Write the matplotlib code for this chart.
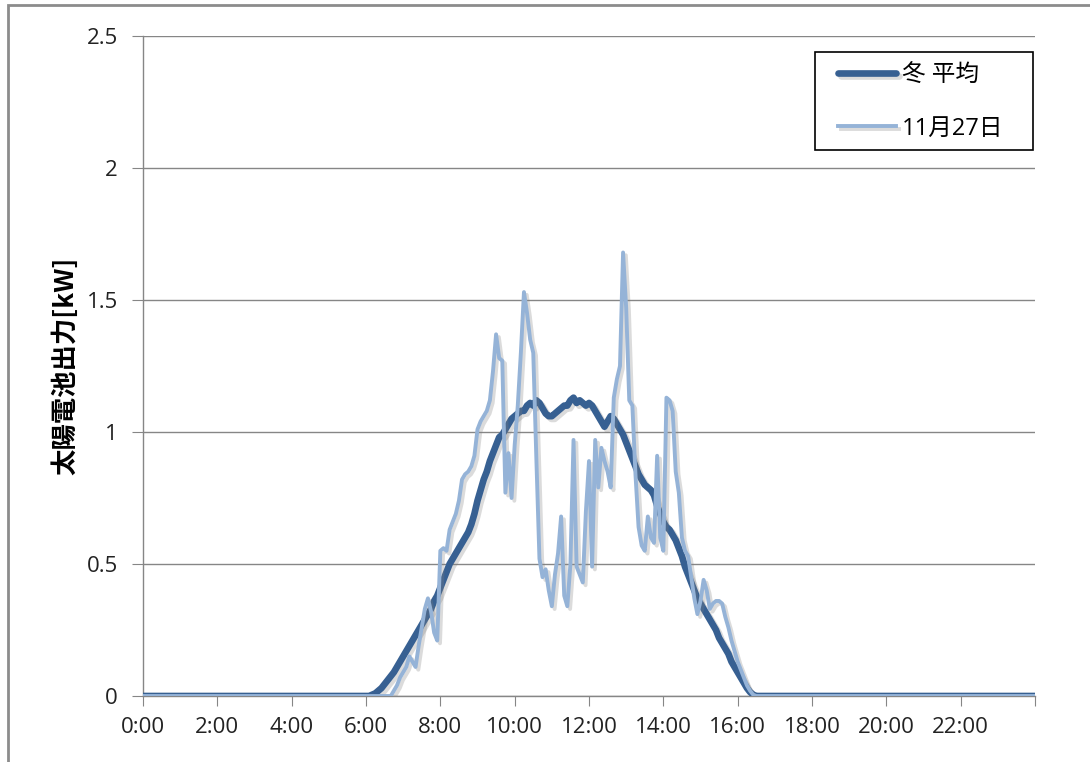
import numpy as np
import matplotlib.pyplot as plt
import matplotlib.patheffects as pe
from matplotlib.patches import Rectangle

# 5-minute values from 6:00 to 17:00 (zero outside this range)
day_start_min = 6 * 60
step_min = 5

winter_avg = [
    0, 0, 0.005, 0.01, 0.02, 0.03, 0.045, 0.06, 0.075, 0.09, 0.11, 0.13,
    0.15, 0.17, 0.19, 0.21, 0.23, 0.25, 0.27, 0.29, 0.31, 0.33, 0.36, 0.38,
    0.41, 0.44, 0.47, 0.50, 0.52, 0.54, 0.56, 0.58, 0.60, 0.62, 0.65, 0.69,
    0.74, 0.78, 0.82, 0.85, 0.89, 0.92, 0.95, 0.98, 0.99, 1.01, 1.03, 1.05,
    1.06, 1.07, 1.08, 1.08, 1.10, 1.11, 1.10, 1.12, 1.11, 1.09, 1.07, 1.06,
    1.06, 1.07, 1.08, 1.09, 1.10, 1.10, 1.12, 1.13, 1.11, 1.12, 1.11, 1.10,
    1.11, 1.10, 1.08, 1.06, 1.04, 1.02, 1.04, 1.06, 1.05, 1.03, 1.01, 0.99,
    0.96, 0.93, 0.90, 0.87, 0.84, 0.82, 0.80, 0.79, 0.78, 0.76, 0.72, 0.69,
    0.66, 0.64, 0.63, 0.61, 0.59, 0.56, 0.53, 0.49, 0.46, 0.43, 0.40, 0.37,
    0.35, 0.33, 0.31, 0.29, 0.27, 0.25, 0.22, 0.20, 0.18, 0.16, 0.13, 0.11,
    0.09, 0.07, 0.05, 0.03, 0.015, 0.005, 0, 0, 0, 0, 0, 0,
    0,
]

nov27 = [
    0, 0, 0, 0, 0, 0, 0, 0, 0, 0.02, 0.04, 0.07,
    0.09, 0.11, 0.15, 0.13, 0.11, 0.19, 0.26, 0.33, 0.37, 0.32, 0.24, 0.21,
    0.55, 0.56, 0.55, 0.63, 0.66, 0.69, 0.74, 0.82, 0.84, 0.85, 0.87, 0.91,
    1.01, 1.04, 1.06, 1.08, 1.12, 1.23, 1.37, 1.28, 1.27, 0.77, 0.92, 0.75,
    0.95, 1.10, 1.30, 1.53, 1.45, 1.35, 1.30, 0.90, 0.52, 0.45, 0.48, 0.40,
    0.34, 0.46, 0.54, 0.68, 0.38, 0.34, 0.50, 0.97, 0.49, 0.46, 0.43, 0.70,
    0.89, 0.49, 0.97, 0.79, 0.94, 0.89, 0.85, 0.79, 1.13, 1.20, 1.25, 1.68,
    1.47, 1.12, 1.10, 0.84, 0.64, 0.57, 0.55, 0.68, 0.60, 0.58, 0.91, 0.60,
    0.55, 1.13, 1.12, 1.08, 0.85, 0.77, 0.60, 0.55, 0.53, 0.45, 0.37, 0.31,
    0.36, 0.44, 0.40, 0.33, 0.35, 0.36, 0.36, 0.35, 0.30, 0.26, 0.21, 0.17,
    0.13, 0.10, 0.07, 0.04, 0.02, 0.005, 0, 0, 0, 0, 0, 0,
    0,
]

series_names = ["冬 平均", "11月27日"]
x_ticks = list(range(0, 25, 2))
x_labels = [f"{h}:00" for h in range(0, 24, 2)] + [""]
y_ticks = [0, 0.5, 1, 1.5, 2, 2.5]
y_labels = ["0", "0.5", "1", "1.5", "2", "2.5"]

W, H = 1090, 762


def full_day(values):
    # put the daytime values onto a 0:00-24:00 grid of 5-minute steps
    t = np.arange(0, 24 * 60 + step_min, step_min)
    v = np.zeros(len(t))
    i0 = day_start_min // step_min
    v[i0:i0 + len(values)] = values
    return t / 60.0, v


def main():
    plt.rcParams['font.family'] = ['Open Sans', 'Noto Sans CJK JP']

    fig = plt.figure(figsize=(W / 100, H / 100), dpi=100)
    ax = fig.add_axes([143 / W, 1 - 696 / H, (1035 - 143) / W, (696 - 36) / H])

    shadow = [pe.SimpleLineShadow(offset=(2, -2), shadow_color='gray', alpha=0.28),
              pe.Normal()]

    t, v = full_day(winter_avg)
    ax.plot(t, v, color='#376092', lw=4.8, solid_joinstyle='round',
            solid_capstyle='round', label=series_names[0], path_effects=shadow, zorder=3)
    t, v = full_day(nov27)
    ax.plot(t, v, color='#95B3D7', lw=2.8, solid_joinstyle='round',
            label=series_names[1], path_effects=shadow, zorder=4)

    ax.set_xlim(0, 24)
    ax.set_ylim(0, 2.5)
    ax.set_xticks(x_ticks)
    ax.set_xticklabels(x_labels)
    ax.set_yticks(y_ticks)
    ax.set_yticklabels(y_labels)
    ax.tick_params(axis='x', length=7, color='#868686', labelsize=16, pad=8, labelcolor='#222222')
    ax.tick_params(axis='y', length=8, color='#868686', labelsize=16, pad=10, labelcolor='#222222')
    ax.yaxis.grid(True, color='#868686', lw=1)
    ax.set_axisbelow(True)
    for s in ['top', 'right']:
        ax.spines[s].set_visible(False)
    for s in ['left', 'bottom']:
        ax.spines[s].set_color('#868686')
        ax.spines[s].set_linewidth(1)

    ax.set_ylabel("太陽電池出力[kW]", fontsize=19, fontweight='bold',
                  family=['Noto Sans CJK JP'], labelpad=5)

    # legend entries without frame, box drawn separately
    ax.legend(loc='upper left', bbox_to_anchor=(838 / W, 1 - 63 / H),
              bbox_transform=fig.transFigure, borderaxespad=0, borderpad=0,
              fontsize=17, frameon=False, handlelength=2.45,
              handletextpad=0.25, labelspacing=1.25)
    fig.patches.append(Rectangle((815 / W, 1 - 150 / H), (1033 - 815) / W, 98 / H,
                                 transform=fig.transFigure, fill=False,
                                 edgecolor='black', lw=1.2, zorder=5))

    # outer chart border
    fig.patches.append(Rectangle((8 / W, -0.05), 1.2, 1 - 5 / H + 0.05,
                                 transform=fig.transFigure, fill=False,
                                 edgecolor='#8c8c8c', lw=2))

    fig.savefig("out.png", dpi=100)


if __name__ == "__main__":
    main()
